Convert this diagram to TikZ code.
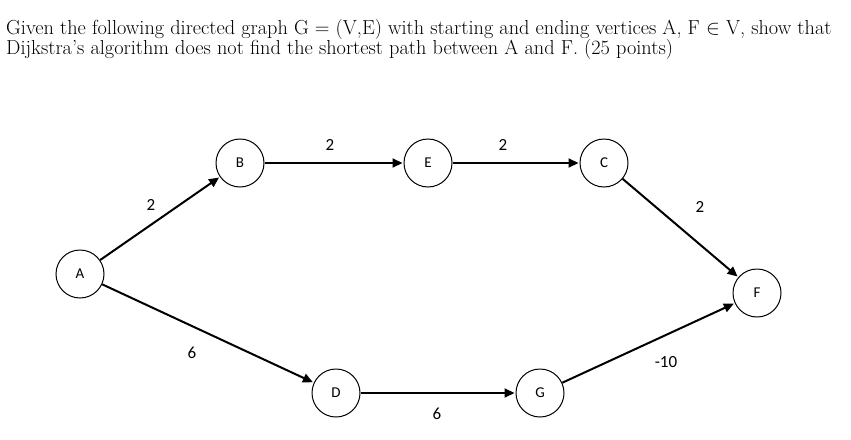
\documentclass[tikz,border=0pt]{standalone}
\usepackage{fontspec}
\newfontfamily\carlitofont{Carlito}
\usetikzlibrary{arrows.meta}
\begin{document}
\begin{tikzpicture}[x=1pt,y=-1pt,
 v/.style={circle,draw,line width=1pt,minimum size=48pt,inner sep=0pt,font=\carlitofont\fontsize{15}{15}\selectfont},
 e/.style={draw,line width=2pt,-{Triangle[length=10pt,width=9pt]},shorten >=1pt},
 w/.style={font=\carlitofont\fontsize{17}{17}\selectfont}]
\useasboundingbox (0,0) rectangle (851,439);
\node[anchor=base west,inner sep=0pt,font=\fontsize{20.3}{24}\selectfont] (t1) at (6,34) {Given the following directed graph G = (V,E) with starting and ending vertices A, F $\in$ V, show that};
\node[anchor=base west,inner sep=0pt,font=\fontsize{20.3}{24}\selectfont] (t2) at (6,54) {Dijkstra's algorithm does not find the shortest path between A and F. (25 points)};
\node[v] (A) at (80,274) {A};
\node[v] (B) at (240,163) {B};
\node[v] (E) at (428,163) {E};
\node[v] (C) at (604,163) {C};
\node[v] (F) at (757,293) {F};
\node[v] (D) at (336,393) {D};
\node[v] (G) at (540,393) {G};
\draw[e] (A) -- (B);
\draw[e] (B) -- (E);
\draw[e] (E) -- (C);
\draw[e] (C) -- (F);
\draw[e] (A) -- (D);
\draw[e] (D) -- (G);
\draw[e] (G) -- (F);
\node[w] (l1) at (151,205) {2};
\node[w] (l2) at (330,145) {2};
\node[w] (l3) at (503,145) {2};
\node[w] (l4) at (700,207) {2};
\node[w] (l5) at (192,353) {6};
\node[w] (l6) at (437,414) {6};
\node[w] (l7) at (666,362) {-10};
\end{tikzpicture}
\end{document}
